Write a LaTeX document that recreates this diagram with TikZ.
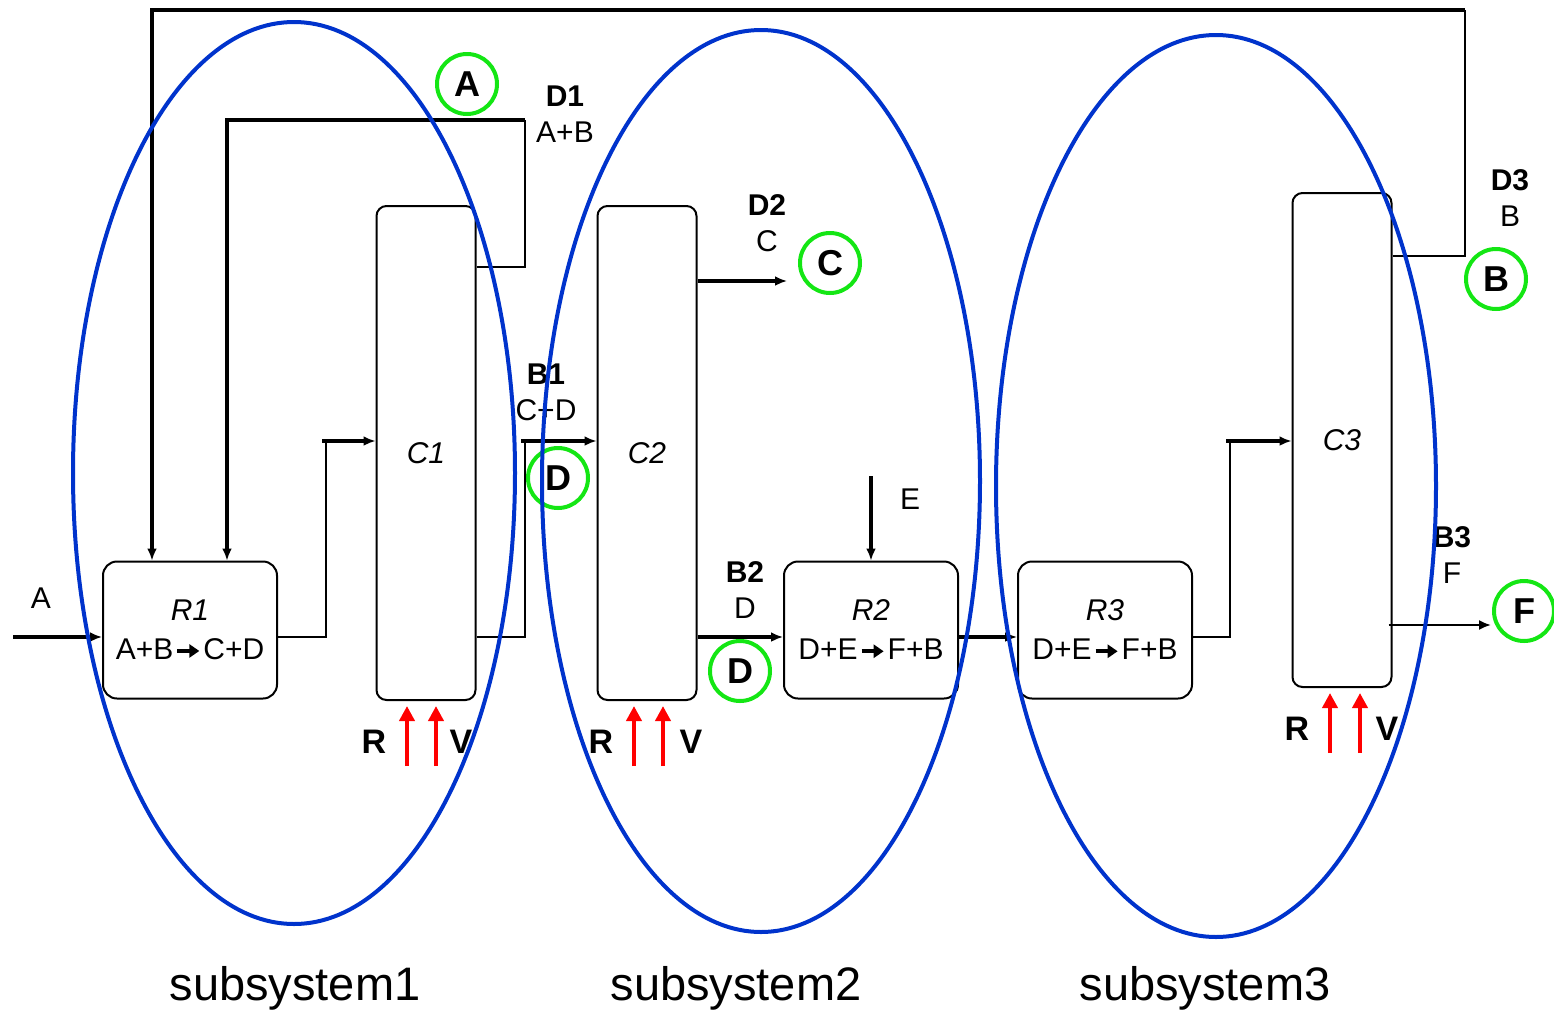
\documentclass[tikz,border=0pt]{standalone}
\usepackage{fontspec}
\setmainfont{Liberation Sans}
\usetikzlibrary{arrows.meta,positioning}
\definecolor{ringblue}{RGB}{0,51,204}
\definecolor{taggreen}{RGB}{20,230,20}
\tikzset{unit/.style={draw,line width=1pt,rounded corners=7pt,minimum width=87pt,minimum height=68.5pt,align=center,inner sep=0pt,font=\fontsize{15}{19.5}\selectfont},
col/.style={draw,line width=1pt,rounded corners=5pt,minimum width=49.5pt,minimum height=247pt,inner sep=0pt,font=\fontsize{15}{18}\selectfont\itshape},
stream/.style={align=center,inner sep=0pt,font=\fontsize{15}{18}\selectfont},
tag/.style={draw=taggreen,line width=2pt,circle,minimum size=30pt,inner sep=0pt,font=\fontsize{18}{20}\selectfont\bfseries},
rv/.style={inner sep=0pt,font=\fontsize{17}{20}\selectfont\bfseries},
sub/.style={inner sep=0pt,font=\fontsize{23.5}{28}\selectfont},
pipe/.style={line width=1pt},heavy/.style={line width=1.8pt},
arr/.style={-{Latex[length=6pt,width=5pt]}},
heat/.style={red,line width=2pt,-{Triangle[length=7.5pt,width=7.5pt]}},
ring/.style={draw=ringblue,line width=2pt}}
\newcommand{\rxn}{\kern1pt\tikz[baseline=-0.55ex]\draw[line width=2pt,-{Triangle[length=5pt,width=6.5pt]}](0pt,0pt)--(11pt,0pt);\kern1pt}
\begin{document}
\begin{tikzpicture}[x=0.5pt,y=-0.5pt]
\useasboundingbox (0,0) rectangle (1554,1013);
\node[unit](R1)at(190,630){\textit{R1}\\A+B\rxn C+D};
\node[col](C1)at(426,453){C1};\node[col](C2)at(647,453){C2};
\node[unit](R2)at(871,630){\textit{R2}\\D+E\rxn F+B};
\node[unit](R3)at(1105,630){\textit{R3}\\D+E\rxn F+B};
\node[col](C3)at(1342,440){C3};
\coordinate(ain)at(13,637);\coordinate(j1)at(326,441);\coordinate(j2)at(525,441);\coordinate(j3)at(1230,441);
\coordinate(d1a)at(525,267);\coordinate(d1b)at(525,120);\coordinate(d1c)at(227,120);
\coordinate(d3a)at(1465,256);\coordinate(d3b)at(1465,10);\coordinate(d3c)at(152,10);
\coordinate(d2end)at(787,281);\coordinate(ein)at(871,476);\coordinate(fout)at(1491,625);
\draw[heavy,arr](ain)--(ain-|R1.west);
\draw[pipe](R1.east|-ain)-|(j1);\draw[heavy,arr]([xshift=-2pt]j1)--(C1.west|-j1);
\draw[pipe](C1.east|-d1a)-|(d1b);\draw[heavy,arr](d1b)-|(R1.north-|d1c);
\draw[pipe](C3.east|-d3a)-|(d3b);\draw[heavy,arr](d3b)-|(R1.north-|d3c);
\draw[pipe](C1.east|-ain)-|(j2);\draw[heavy,arr]([xshift=-2pt]j2)--(C2.west|-j2);
\draw[heavy,arr](C2.east|-d2end)--(d2end);
\draw[heavy,arr](C2.east|-ain)--(R2.west|-ain);
\draw[heavy,arr](ein)--(R2.north);
\draw[heavy,arr](R2.east|-ain)--(R3.west|-ain);
\draw[pipe](R3.east|-ain)-|(j3);\draw[heavy,arr]([xshift=-2pt]j3)--(C3.west|-j3);
\draw[pipe,arr]([xshift=-2pt]C3.east|-fout)--(fout);
\foreach\c/\a/\b/\r/\v in{C1/-19/10/-52/35,C2/-13/16/-46/44,C3/-12/18/-45/45}{
\draw[heat]([shift={(\a,65)}]\c.south)--([shift={(\a,5)}]\c.south);
\draw[heat]([shift={(\b,65)}]\c.south)--([shift={(\b,5)}]\c.south);
\node[rv](\c R)at([shift={(\r,41)}]\c.south){R};\node[rv](\c V)at([shift={(\v,41)}]\c.south){V};}
\node[stream](lA)at(41,598){A};\node[stream](lE)at(910,499){E};
\node[stream](sD1)at(565,114){\textbf{D1}\\A+B};\node[stream](sB1)at(546,392){\textbf{B1}\\C+D};
\node[stream](sD2)at(767,223){\textbf{D2}\\C};\node[stream](sB2)at(745,590){\textbf{B2}\\D};
\node[stream](sD3)at(1510,198){\textbf{D3}\\B};\node[stream](sB3)at(1452,555){\textbf{B3}\\F};
\node[tag](tA)at(467,84){A};\node[tag](tD1)at(558,478){D};\node[tag](tC)at(830,263){C};
\node[tag](tD2)at(740,671){D};\node[tag](tB)at(1496,279){B};\node[tag](tF)at(1524,611){F};
\node[sub](s1)at(295,988){subsystem1};\node[sub](s2)at(736,988){subsystem2};\node[sub](s3)at(1205,988){subsystem3};
\draw[ring](294,473)ellipse[x radius=110.5pt,y radius=225.5pt];
\draw[ring](761,481)ellipse[x radius=109.5pt,y radius=225.5pt];
\draw[ring](1216,486)ellipse[x radius=110pt,y radius=225.5pt];
\end{tikzpicture}
\end{document}
